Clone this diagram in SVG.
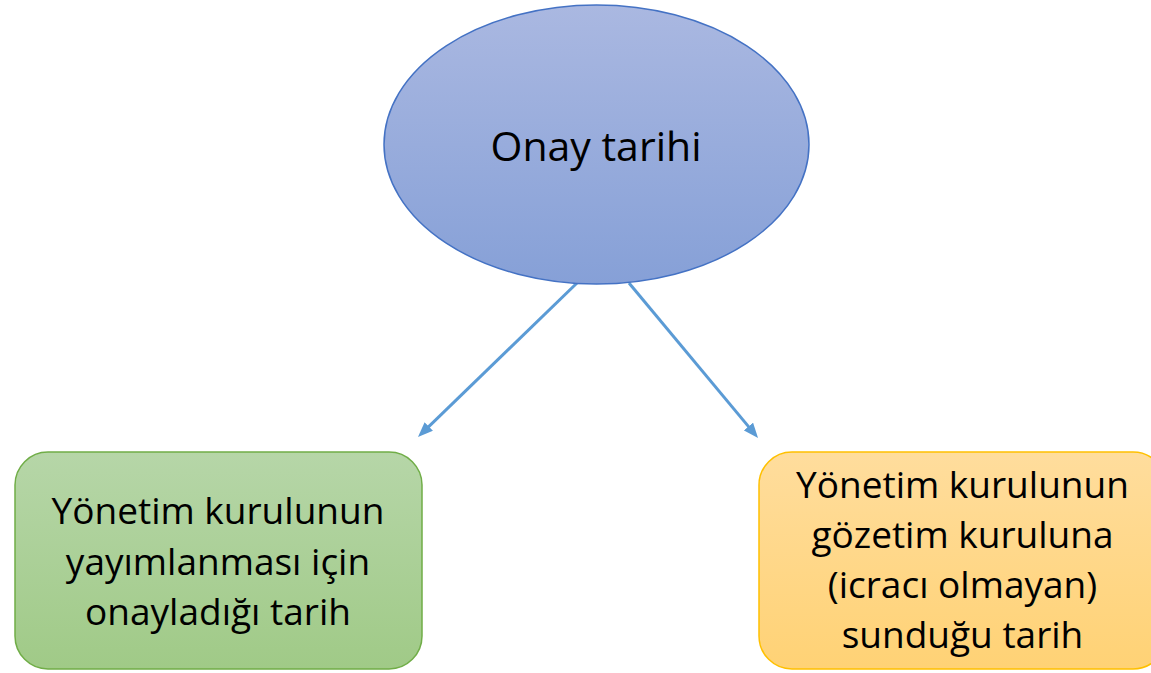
<svg xmlns="http://www.w3.org/2000/svg" width="1151" height="673" viewBox="0 0 1151 673">
<style>
text{font-family:"Open Sans","Noto Sans","Liberation Sans",sans-serif;fill:#000;text-anchor:middle}
.big{font-size:41px}
.box{font-size:37px}
.conn{stroke:#5b9bd5;stroke-width:3;fill:none}
</style>
<defs>
<linearGradient id="gBlue" x1="0" y1="0" x2="0" y2="1">
<stop offset="0" stop-color="#aab8e1"/><stop offset="1" stop-color="#86a0d7"/>
</linearGradient>
<linearGradient id="gGreen" x1="0" y1="0" x2="0" y2="1">
<stop offset="0" stop-color="#b6d6a8"/><stop offset="1" stop-color="#a0ca87"/>
</linearGradient>
<linearGradient id="gGold" x1="0" y1="0" x2="0" y2="1">
<stop offset="0" stop-color="#ffdd9d"/><stop offset="1" stop-color="#ffd275"/>
</linearGradient>
<marker id="arr" viewBox="0 0 10 8" markerWidth="5" markerHeight="4" refX="6" refY="4" orient="auto">
<path d="M0,0 L10,4 L0,8 z" fill="#5b9bd5"/>
</marker>
</defs>
<g id="connectors">
<line class="conn" x1="577" y1="283" x2="422.3" y2="432.8" marker-end="url(#arr)"/>
<line class="conn" x1="629" y1="283" x2="754.2" y2="433.4" marker-end="url(#arr)"/>
</g>
<g id="onay">
<ellipse cx="596.5" cy="144.5" rx="212.5" ry="139.5" fill="url(#gBlue)" stroke="#4472c4" stroke-width="1.5"/>
<text class="big" x="596" y="161">Onay tarihi</text>
</g>
<g id="yayim">
<rect x="15" y="452" width="407" height="217" rx="33" fill="url(#gGreen)" stroke="#70ad47" stroke-width="1.5"/>
<text class="box" x="218" y="524">Yönetim kurulunun</text>
<text class="box" x="218" y="574.5">yayımlanması için</text>
<text class="box" x="218" y="625">onayladığı tarih</text>
</g>
<g id="sunum">
<rect x="759" y="452" width="407" height="217" rx="33" fill="url(#gGold)" stroke="#ffc000" stroke-width="1.5"/>
<text class="box" x="962.5" y="498">Yönetim kurulunun</text>
<text class="box" x="962.5" y="548">gözetim kuruluna</text>
<text class="box" x="962.5" y="598">(icracı olmayan)</text>
<text class="box" x="962.5" y="648">sunduğu tarih</text>
</g>
</svg>
